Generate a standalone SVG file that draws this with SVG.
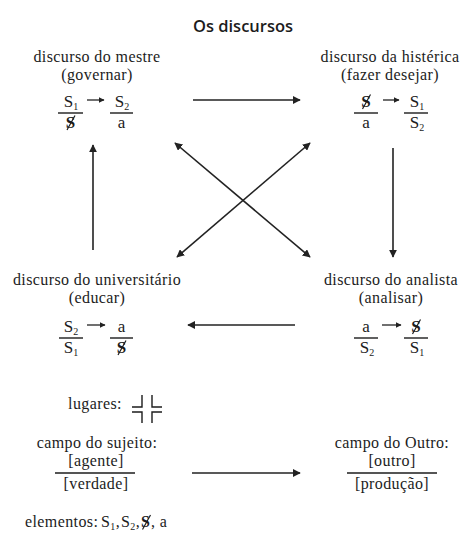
<svg xmlns="http://www.w3.org/2000/svg" width="465" height="538" viewBox="0 0 465 538">
<style>
.t{font-family:"Liberation Serif","Times New Roman",serif;font-size:16px;letter-spacing:0.4px;fill:#1c1c1c;text-anchor:middle}
.s{text-anchor:start}
.f{font-family:"Liberation Serif","Times New Roman",serif;font-size:17px;fill:#1c1c1c;text-anchor:middle}
.sub{font-size:10px}
.bs{font-weight:bold}
.ttl{font-family:"Open Sans","Noto Sans",sans-serif;font-size:16.5px;font-weight:600;fill:#1c1c1c;text-anchor:middle}
.ln{stroke:#1c1c1c;stroke-width:1.4;fill:none}
.bar{stroke:#1c1c1c;stroke-width:1.2}
.c{stroke:#222;stroke-width:1.6;fill:none}
.cs{stroke:#222;stroke-width:1.3;fill:none}
</style>
<defs>
<marker id="ah" viewBox="0 0 10 10" refX="9" refY="5" markerWidth="5" markerHeight="5" markerUnits="strokeWidth" orient="auto-start-reverse">
<path d="M0,0 L10,5 L0,10 Z" fill="#222"/>
</marker>
<marker id="ahs" viewBox="0 0 10 10" refX="9" refY="5" markerWidth="4.5" markerHeight="4.5" markerUnits="strokeWidth" orient="auto">
<path d="M0,0 L10,5 L0,10 Z" fill="#222"/>
</marker>
</defs>
<rect width="465" height="538" fill="#fff"/>
<text class="ttl" x="243" y="32">Os discursos</text>

<g id="mestre">
<text class="t" x="97" y="62">discurso do mestre</text>
<text class="t" x="97" y="80">(governar)</text>
<text class="f" x="71" y="107">S<tspan class="sub" dy="3">1</tspan></text>
<line class="ln" x1="58" y1="113" x2="83" y2="113"/>
<text class="f bs" x="70.5" y="128">S</text>
<line class="bar" x1="67" y1="130" x2="75" y2="115.5"/>
<line class="cs" x1="87" y1="100" x2="104" y2="100" marker-end="url(#ahs)"/>
<text class="f" x="122" y="107">S<tspan class="sub" dy="3">2</tspan></text>
<line class="ln" x1="110" y1="113" x2="133" y2="113"/>
<text class="f" x="121.5" y="128">a</text>
</g>

<g id="histerica">
<text class="t" x="390" y="62">discurso da histérica</text>
<text class="t" x="390" y="80">(fazer desejar)</text>
<text class="f bs" x="366" y="107">S</text>
<line class="bar" x1="362.5" y1="109" x2="370.5" y2="94.5"/>
<line class="ln" x1="354" y1="113" x2="378" y2="113"/>
<text class="f" x="366" y="128">a</text>
<line class="cs" x1="383" y1="100" x2="399" y2="100" marker-end="url(#ahs)"/>
<text class="f" x="417" y="107">S<tspan class="sub" dy="3">1</tspan></text>
<line class="ln" x1="404" y1="113" x2="428" y2="113"/>
<text class="f" x="417" y="128">S<tspan class="sub" dy="3">2</tspan></text>
</g>

<g id="universitario">
<text class="t" x="97" y="285">discurso do universitário</text>
<text class="t" x="97" y="303">(educar)</text>
<text class="f" x="71" y="332">S<tspan class="sub" dy="3">2</tspan></text>
<line class="ln" x1="59" y1="338" x2="83" y2="338"/>
<text class="f" x="71" y="353">S<tspan class="sub" dy="3">1</tspan></text>
<line class="cs" x1="87" y1="325" x2="105" y2="325" marker-end="url(#ahs)"/>
<text class="f" x="121.5" y="332">a</text>
<line class="ln" x1="110" y1="338" x2="133" y2="338"/>
<text class="f bs" x="121.5" y="353">S</text>
<line class="bar" x1="118" y1="355" x2="126" y2="340.5"/>
</g>

<g id="analista">
<text class="t" x="391" y="285">discurso do analista</text>
<text class="t" x="391" y="303">(analisar)</text>
<text class="f" x="366" y="332">a</text>
<line class="ln" x1="354" y1="338" x2="378" y2="338"/>
<text class="f" x="367" y="353">S<tspan class="sub" dy="3">2</tspan></text>
<line class="cs" x1="382" y1="325" x2="401" y2="325" marker-end="url(#ahs)"/>
<text class="f bs" x="416" y="332">S</text>
<line class="bar" x1="412.5" y1="334" x2="420.5" y2="319.5"/>
<line class="ln" x1="404" y1="338" x2="428" y2="338"/>
<text class="f" x="417" y="353">S<tspan class="sub" dy="3">1</tspan></text>
</g>

<g id="lugares">
<text class="t" x="95" y="409">lugares:</text>
<path class="ln" d="M132,407 H142 V395 M152,395 V407 H162 M132,412 H142 V423 M152,423 V412 H162" stroke-width="1.8"/>
</g>

<g id="campo-sujeito">
<text class="t" x="97" y="448">campo do sujeito:</text>
<text class="t" x="96" y="466">[agente]</text>
<line class="ln" x1="55" y1="473" x2="135" y2="473"/>
<text class="t" x="96" y="489">[verdade]</text>
</g>

<g id="campo-outro">
<text class="t" x="392" y="448">campo do Outro:</text>
<text class="t" x="392" y="466">[outro]</text>
<line class="ln" x1="347" y1="473" x2="437" y2="473"/>
<text class="t" x="392" y="489">[produção]</text>
</g>

<g id="elementos">
<text class="t s" x="25" y="527">elementos:</text>
<text class="t s" x="101" y="527">S<tspan class="sub" dy="3">1</tspan><tspan dy="-3">,</tspan></text>
<text class="t s" x="121" y="527">S<tspan class="sub" dy="3">2</tspan><tspan dy="-3">,</tspan></text>
<text class="t s bs" x="141" y="527">S</text>
<line class="bar" x1="142.5" y1="529.5" x2="150.5" y2="515"/>
<text class="t s" x="151" y="527">, a</text>
</g>

<g id="connectors">
<line class="c" x1="193" y1="100" x2="300" y2="100" marker-end="url(#ah)"/>
<line class="c" x1="295" y1="325" x2="188" y2="325" marker-end="url(#ah)"/>
<line class="c" x1="192" y1="473" x2="300" y2="473" marker-end="url(#ah)"/>
<line class="c" x1="93" y1="250" x2="93" y2="145" marker-end="url(#ah)"/>
<line class="c" x1="393" y1="148" x2="393" y2="257" marker-end="url(#ah)"/>
<line class="c" x1="175" y1="143" x2="310" y2="257" marker-start="url(#ah)" marker-end="url(#ah)"/>
<line class="c" x1="310" y1="143" x2="177" y2="257" marker-start="url(#ah)" marker-end="url(#ah)"/>
</g>
</svg>
